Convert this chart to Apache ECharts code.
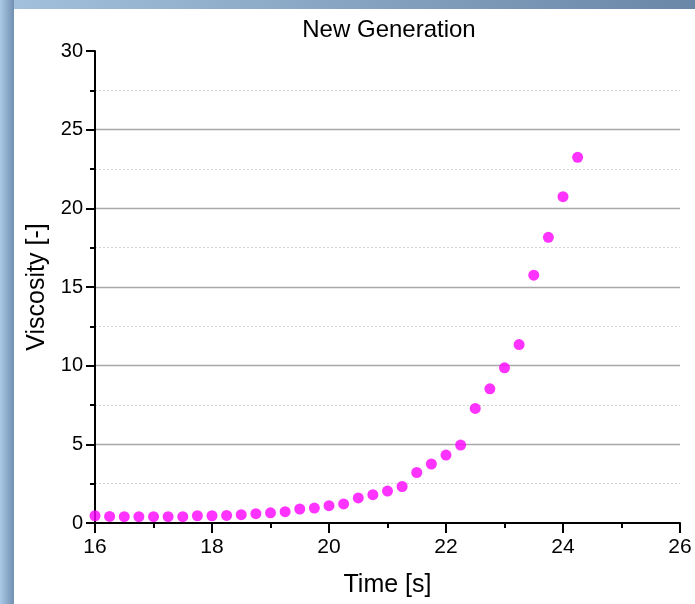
<!DOCTYPE html>
<html>
<head>
<meta charset="utf-8">
<script src="https://cdn.jsdelivr.net/npm/echarts@6/dist/echarts.min.js"></script>
<style>
html,body{margin:0;padding:0;background:#fff;}
#chart{width:695px;height:604px;}
</style>
</head>
<body>
<div id="chart"></div>
<script>
var timeValues = [16, 16.25, 16.5, 16.75, 17, 17.25, 17.5, 17.75, 18, 18.25, 18.5, 18.75, 19, 19.25, 19.5, 19.75, 20, 20.25, 20.5, 20.75, 21, 21.25, 21.5, 21.75, 22, 22.25, 22.5, 22.75, 23, 23.25, 23.5, 23.75, 24, 24.25];
var viscosityValues = [0.46, 0.42, 0.40, 0.40, 0.40, 0.40, 0.40, 0.46, 0.46, 0.48, 0.53, 0.59, 0.65, 0.72, 0.89, 0.95, 1.10, 1.21, 1.59, 1.80, 2.03, 2.32, 3.21, 3.75, 4.32, 4.95, 7.28, 8.53, 9.86, 11.34, 15.75, 18.16, 20.74, 23.24];
var chartTitle = 'New Generation';
var xName = 'Time [s]';
var yName = 'Viscosity [-]';

var points = timeValues.map(function (t, i) { return [t, viscosityValues[i]]; });
var font = 'Liberation Sans, Arial, sans-serif';

var chart = echarts.init(document.getElementById('chart'), null, {renderer: 'canvas'});
chart.setOption({
  backgroundColor: '#ffffff',
  animation: false,
  graphic: [
    {type: 'rect', left: 0, top: 0, z: 100, shape: {width: 14, height: 604},
     style: {fill: new echarts.graphic.LinearGradient(0, 0, 1, 0, [{offset: 0, color: '#a9c9e6'}, {offset: 1, color: '#7190b2'}])}},
    {type: 'rect', left: 0, top: 0, z: 99, shape: {width: 695, height: 9},
     style: {fill: new echarts.graphic.LinearGradient(0, 0, 1, 0, [{offset: 0, color: '#a3c1dc'}, {offset: 1, color: '#6b87a8'}])}}
  ],
  title: {
    text: chartTitle,
    left: 384, top: 13, textAlign: 'center',
    textStyle: {fontFamily: font, fontSize: 24, fontWeight: 'normal', color: '#000'}
  },
  grid: {left: 95, right: 15, top: 51, bottom: 81, containLabel: false},
  xAxis: {
    type: 'value', min: 16, max: 26, interval: 2,
    name: xName, nameLocation: 'middle', nameGap: 50,
    nameTextStyle: {fontFamily: font, fontSize: 25, color: '#000'},
    axisLine: {onZero: false, lineStyle: {color: '#000', width: 2}},
    axisTick: {show: true, inside: false, length: 10, lineStyle: {color: '#000', width: 2}},
    minorTick: {show: true, splitNumber: 2, length: 5, lineStyle: {color: '#000', width: 2}},
    axisLabel: {fontFamily: font, fontSize: 21, color: '#000', margin: 14},
    splitLine: {show: false}
  },
  yAxis: {
    type: 'value', min: 0, max: 30, interval: 5,
    name: yName, nameLocation: 'middle', nameGap: 42, nameRotate: 90,
    nameTextStyle: {fontFamily: font, fontSize: 25, color: '#000'},
    axisLine: {onZero: false, lineStyle: {color: '#000', width: 2}},
    axisTick: {show: true, inside: false, length: 9, lineStyle: {color: '#000', width: 2}},
    minorTick: {show: true, splitNumber: 2, length: 5, lineStyle: {color: '#000', width: 2}},
    axisLabel: {fontFamily: font, fontSize: 20, color: '#000', margin: 12},
    splitLine: {show: true, showMinLine: false, showMaxLine: false, lineStyle: {color: '#a8a8a8', width: 1.3}},
    minorSplitLine: {show: true, lineStyle: {color: '#d4d4d4', width: 1, type: [2, 2]}}
  },
  series: [{
    type: 'scatter',
    data: points,
    symbol: 'circle',
    symbolSize: 11,
    itemStyle: {color: '#ff00ff'},
    clip: false
  }]
});
</script>
</body>
</html>
